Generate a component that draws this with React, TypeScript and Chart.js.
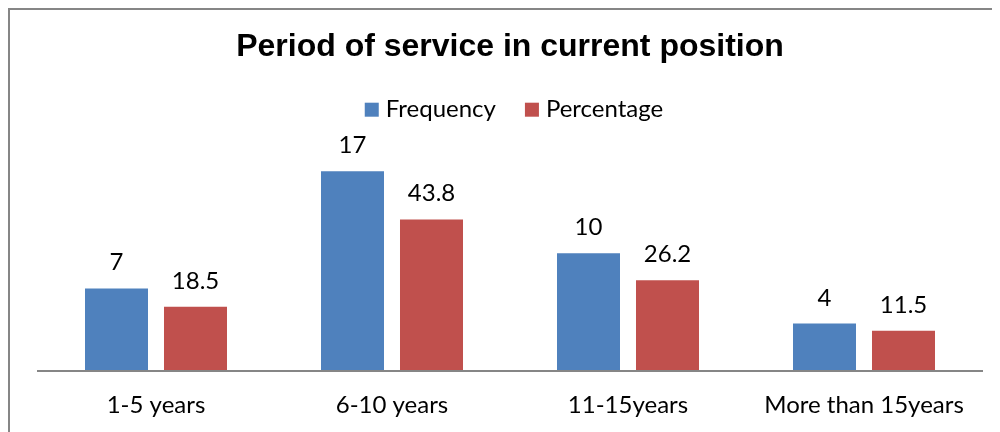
import React, { useEffect, useRef } from "react";
import { Chart, registerables } from "chart.js";

Chart.register(...registerables);

const chartTitle = "Period of service in current position";
const categories = ["1-5 years", "6-10 years", "11-15years", "More than 15years"];
const seriesNames = ["Frequency", "Percentage"];
const frequency = [7, 17, 10, 4];
const percentage = [18.5, 43.8, 26.2, 11.5];
const seriesColors = ["#4F81BD", "#C0504D"];

const FONT = "Lato, 'Open Sans', sans-serif";

export default function App() {
  const ref = useRef<HTMLCanvasElement>(null);

  useEffect(() => {
    if (!ref.current) return;

    const valueLabels = {
      id: "valueLabels",
      afterDatasetsDraw(chart: any) {
        const ctx = chart.ctx;
        ctx.save();
        ctx.font = `24px ${FONT}`;
        ctx.fillStyle = "#000000";
        ctx.textAlign = "center";
        ctx.textBaseline = "alphabetic";
        chart.data.datasets.forEach((ds: any, i: number) => {
          const meta = chart.getDatasetMeta(i);
          meta.data.forEach((el: any, j: number) => {
            ctx.fillText(String(ds.data[j]), el.x, el.y - 18);
          });
        });
        ctx.restore();
      },
    };

    const customLegend = {
      id: "customLegend",
      afterDraw(chart: any) {
        const ctx = chart.ctx;
        ctx.save();
        ctx.font = `24px ${FONT}`;
        const box = 14;
        const gapText = 7;
        const gapItem = 29;
        const widths = seriesNames.map((n) => ctx.measureText(n).width);
        const total =
          widths.reduce((a, w) => a + box + gapText + w, 0) + gapItem * (seriesNames.length - 1);
        const ca = chart.chartArea;
        let x = (ca.left + ca.right) / 2 + 4 - total / 2;
        const baseline = ca.top - 19.3;
        ctx.textAlign = "left";
        ctx.textBaseline = "alphabetic";
        seriesNames.forEach((n, i) => {
          ctx.fillStyle = seriesColors[i];
          ctx.fillRect(x, baseline - 14, box, box);
          x += box + gapText;
          ctx.fillStyle = "#000000";
          ctx.fillText(n, x, baseline);
          x += widths[i] + gapItem;
        });
        ctx.restore();
      },
    };

    const chart = new Chart(ref.current, {
      type: "bar",
      data: {
        labels: categories,
        datasets: [
          {
            label: seriesNames[0],
            data: frequency,
            backgroundColor: seriesColors[0],
            yAxisID: "y",
            barPercentage: 0.7975,
            categoryPercentage: 0.6695,
          },
          {
            label: seriesNames[1],
            data: percentage,
            backgroundColor: seriesColors[1],
            yAxisID: "y1",
            barPercentage: 0.7975,
            categoryPercentage: 0.6695,
          },
        ],
      },
      options: {
        animation: false,
        responsive: true,
        maintainAspectRatio: false,
        layout: { padding: { left: 28, right: 18, top: 0, bottom: 0 } },
        plugins: {
          legend: { display: false },
          tooltip: { enabled: false },
          title: {
            display: true,
            text: chartTitle,
            color: "#000000",
            font: { family: "'Liberation Sans', Arial, sans-serif", size: 32, weight: "bold" },
            padding: { top: 18, bottom: 69.6 },
          },
        },
        scales: {
          x: {
            grid: { display: false, drawTicks: false },
            border: { display: true, color: "#868686", width: 2, z: 1 },
            ticks: {
              color: "#000000",
              font: { family: FONT, size: 24 },
              padding: 20,
              maxRotation: 0,
              autoSkip: false,
            },
            afterFit: (scale: any) => {
              scale.height = 61.5;
            },
          },
          y: {
            display: false,
            min: 0,
            max: 20,
          },
          y1: {
            display: false,
            min: 0,
            max: 68,
          },
        },
      },
      plugins: [valueLabels, customLegend],
    });

    return () => chart.destroy();
  }, []);

  return (
    <div
      style={{
        width: 990,
        height: 422,
        borderLeft: "2px solid #868686",
        borderTop: "2px solid #868686",
        position: "relative",
      }}
    >
      <canvas ref={ref} />
    </div>
  );
}
